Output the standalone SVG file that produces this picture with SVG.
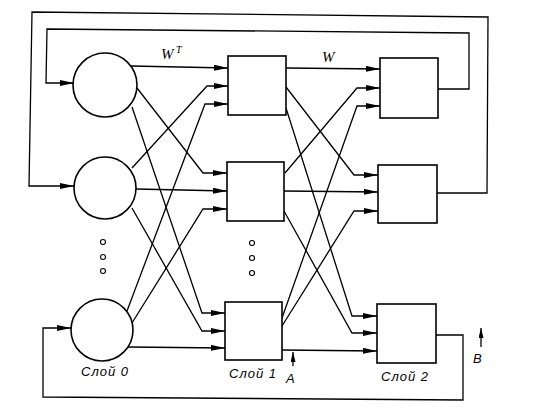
<svg xmlns="http://www.w3.org/2000/svg" width="545" height="411" viewBox="0 0 545 411">
<defs>
<marker id="ah" markerWidth="14" markerHeight="6" refX="14" refY="3" orient="auto" markerUnits="userSpaceOnUse"><path d="M0,0 L14,3 L0,6 z" fill="#000"/></marker>
<marker id="as" markerWidth="10" markerHeight="5" refX="10" refY="2.5" orient="auto" markerUnits="userSpaceOnUse"><path d="M0,0 L10,2.5 L0,5 z" fill="#000"/></marker>
<style>
.nd{fill:#fff;stroke:#000;stroke-width:1.6}
.cn{fill:none;stroke:#000;stroke-width:1.3;marker-end:url(#ah)}
.ln{fill:none;stroke:#000;stroke-width:1.3}
.dot{fill:#fff;stroke:#000;stroke-width:1.1}
.lb{font-family:"Liberation Sans",sans-serif;font-style:italic;font-size:13px;letter-spacing:1px;fill:#000}
.w{font-family:"Liberation Serif",serif;font-style:italic;font-size:15px;fill:#000}
</style>
</defs>
<rect width="545" height="411" fill="#fff"/>
<g id="connectors">
<path class="cn" d="M131,66 L228,68"/>
<path class="cn" d="M132,168 L207,86 L228,86"/>
<path class="cn" d="M127,311 L205,104 L228,104"/>
<path class="cn" d="M137,88 L203,173 L227,173"/>
<path class="cn" d="M136,189 L227,191"/>
<path class="cn" d="M132,323 L203,209 L227,209"/>
<path class="cn" d="M132,107 L202,313 L225,313"/>
<path class="cn" d="M132,208 L202,331 L225,331"/>
<path class="cn" d="M128,347 L225,348"/>
<path class="cn" d="M286,68 L380,69"/>
<path class="cn" d="M285,173 L357,88 L380,88"/>
<path class="cn" d="M282,318 L357,106 L380,106"/>
<path class="cn" d="M286,87 L354,175 L378,175"/>
<path class="cn" d="M284,191 L378,192"/>
<path class="cn" d="M282,326 L354,211 L378,211"/>
<path class="cn" d="M286,108 L352,316 L377,316"/>
<path class="cn" d="M284,211 L352,333 L377,333"/>
<path class="cn" d="M282,350 L377,351"/>
<path class="cn" d="M437,193 L487,193 L488,17 L32,12 L29,186 L74,186"/>
<path class="cn" d="M438,89 L469,89 L469,33 L47,29 L46,83 L74,83"/>
<path class="cn" d="M436,335 L463,335 L463,400 L43,397 L43,328 L71,328"/>
</g>
<g id="n0a"><circle class="nd" cx="105" cy="85" r="32"/></g>
<g id="n0b"><circle class="nd" cx="105" cy="188" r="31"/></g>
<g id="n0c"><circle class="nd" cx="102" cy="330" r="31"/></g>
<g id="n1a"><rect class="nd" x="228" y="56" width="58" height="59"/></g>
<g id="n1b"><rect class="nd" x="227" y="162" width="57" height="59"/></g>
<g id="n1c"><rect class="nd" x="225" y="302" width="57" height="58"/></g>
<g id="n2a"><rect class="nd" x="380" y="58" width="58" height="60"/></g>
<g id="n2b"><rect class="nd" x="378" y="165" width="59" height="58"/></g>
<g id="n2c"><rect class="nd" x="377" y="304" width="59" height="59"/></g>
<g id="dots">
<circle class="dot" cx="103" cy="242" r="2.5"/>
<circle class="dot" cx="103" cy="257" r="2.5"/>
<circle class="dot" cx="103" cy="271" r="2.5"/>
<circle class="dot" cx="252" cy="243" r="2.5"/>
<circle class="dot" cx="252" cy="258" r="2.5"/>
<circle class="dot" cx="252" cy="273" r="2.5"/>
</g>
<g id="markers">
<path class="ln" d="M293,366 L293,352" marker-end="url(#as)"/>
<path class="ln" d="M481,347 L481,328" marker-end="url(#as)"/>
</g>
<g id="labels">
<text class="w" x="161" y="59">W</text>
<text class="w" x="176" y="53" style="font-size:10px">T</text>
<text class="w" x="322" y="62">W</text>
<text class="lb" x="81" y="376">Слой 0</text>
<text class="lb" x="229" y="378">Слой 1</text>
<text class="lb" x="381" y="381">Слой 2</text>
<text class="lb" x="286" y="383">A</text>
<text class="lb" x="473" y="363">B</text>
</g>
</svg>
